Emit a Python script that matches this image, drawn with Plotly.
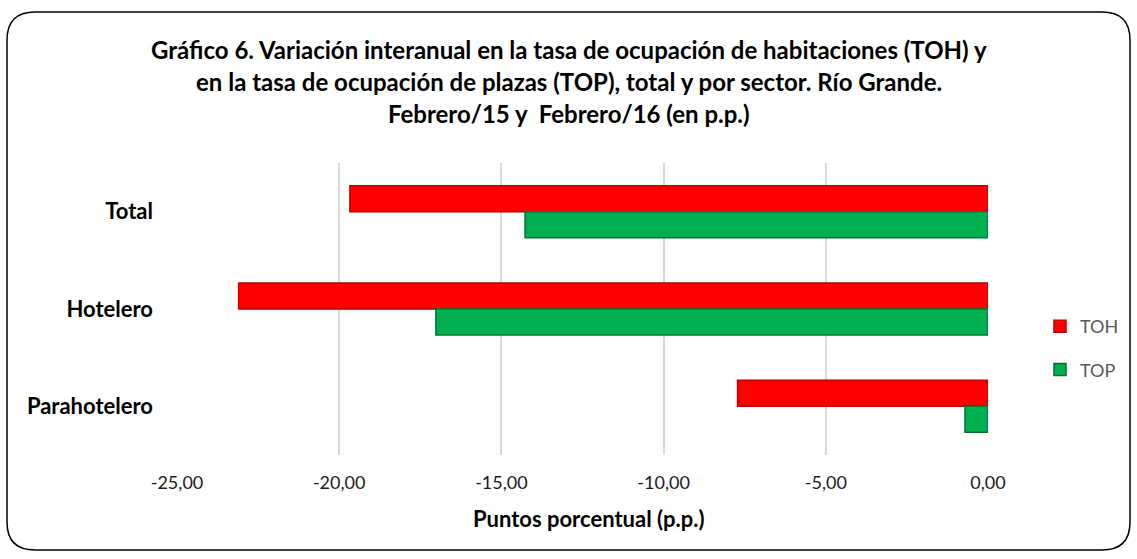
import plotly.graph_objects as go

categories = ["Total", "Hotelero", "Parahotelero"]
toh = [-19.67, -23.10, -7.72]
top = [-14.27, -17.02, -0.71]
series_names = ["TOH", "TOP"]
x_tickvals = [-25, -20, -15, -10, -5, 0]
x_ticktext = ["-25,00", "-20,00", "-15,00", "-10,00", "-5,00", "0,00"]
title_lines = [
    "Gráfico 6. Variación interanual en la tasa de ocupación de habitaciones (TOH) y",
    "en la tasa de ocupación de plazas (TOP), total y por sector. Río Grande.",
    "Febrero/15 y  Febrero/16 (en p.p.)",
]
x_title = "Puntos porcentual (p.p.)"

W, H = 1137, 559
L, R, T, B = 177, 988, 163, 455  # plot area pixel bounds

def px(x):
    return (x - L) / (R - L)

def py(y):
    return (B - y) / (B - T)

fig = go.Figure()
fig.add_trace(go.Bar(
    y=categories, x=toh, name=series_names[0], orientation="h",
    marker=dict(color="#ff0000", line=dict(color="#c00000", width=1.5)),
    legendgroup="a",
))
fig.add_trace(go.Bar(
    y=categories, x=top, name=series_names[1], orientation="h",
    marker=dict(color="#00b050", line=dict(color="#00752f", width=1.5)),
    legendgroup="b",
))

# rounded frame
x0, x1, y0, y1, r = 7, 1130, 12, 550, 28
path = (
    f"M {px(x0+r)},{py(y0)} L {px(x1-r)},{py(y0)} "
    f"Q {px(x1)},{py(y0)} {px(x1)},{py(y0+r)} "
    f"L {px(x1)},{py(y1-r)} Q {px(x1)},{py(y1)} {px(x1-r)},{py(y1)} "
    f"L {px(x0+r)},{py(y1)} Q {px(x0)},{py(y1)} {px(x0)},{py(y1-r)} "
    f"L {px(x0)},{py(y0+r)} Q {px(x0)},{py(y0)} {px(x0+r)},{py(y0)} Z"
)
fig.add_shape(type="path", path=path, xref="paper", yref="paper",
              line=dict(color="#000000", width=1.5), layer="below")

for txt, yy in zip(title_lines, [50, 82, 113]):
    fig.add_annotation(text=f"<b>{txt}</b>", x=px(569), y=py(yy), xref="paper", yref="paper",
                       xanchor="center", yanchor="middle", showarrow=False,
                       font=dict(family="Lato", size=24, color="#000000"))

fig.add_annotation(text=f"<b>{x_title}</b>", x=px(588), y=py(518), xref="paper", yref="paper",
                   xanchor="center", yanchor="middle", showarrow=False,
                   font=dict(family="Lato", size=22, color="#000000"))

fig.update_layout(
    width=W, height=H,
    margin=dict(l=L, r=W - R, t=T, b=H - B, autoexpand=False),
    paper_bgcolor="white", plot_bgcolor="white",
    barmode="group", bargap=0.465, bargroupgap=0,
    showlegend=True,
    legend=dict(x=px(1040), y=py(348), xanchor="left", yanchor="middle",
                font=dict(family="Lato", size=18, color="#595959"),
                tracegroupgap=17, traceorder="grouped", bgcolor="rgba(0,0,0,0)",
                itemwidth=30),
    xaxis=dict(range=[-25, 0], tickvals=x_tickvals, ticktext=x_ticktext,
               showgrid=True, gridcolor="#d9d9d9", gridwidth=1.5,
               zeroline=False, showline=False, ticks="",
               tickfont=dict(family="Lato", size=18, color="#1a1a1a"),
               ticklabelstandoff=15),
    yaxis=dict(autorange="reversed", showgrid=False, zeroline=False, showline=False,
               ticks="", tickfont=dict(family="Lato", size=22, color="#000000"),
               ticklabelstandoff=23,
               tickvals=categories, ticktext=[f"<b>{c}</b>" for c in categories]),
)

fig.write_html("out.html", config={"displayModeBar": False},
               post_script="document.body.style.margin='0px';")
